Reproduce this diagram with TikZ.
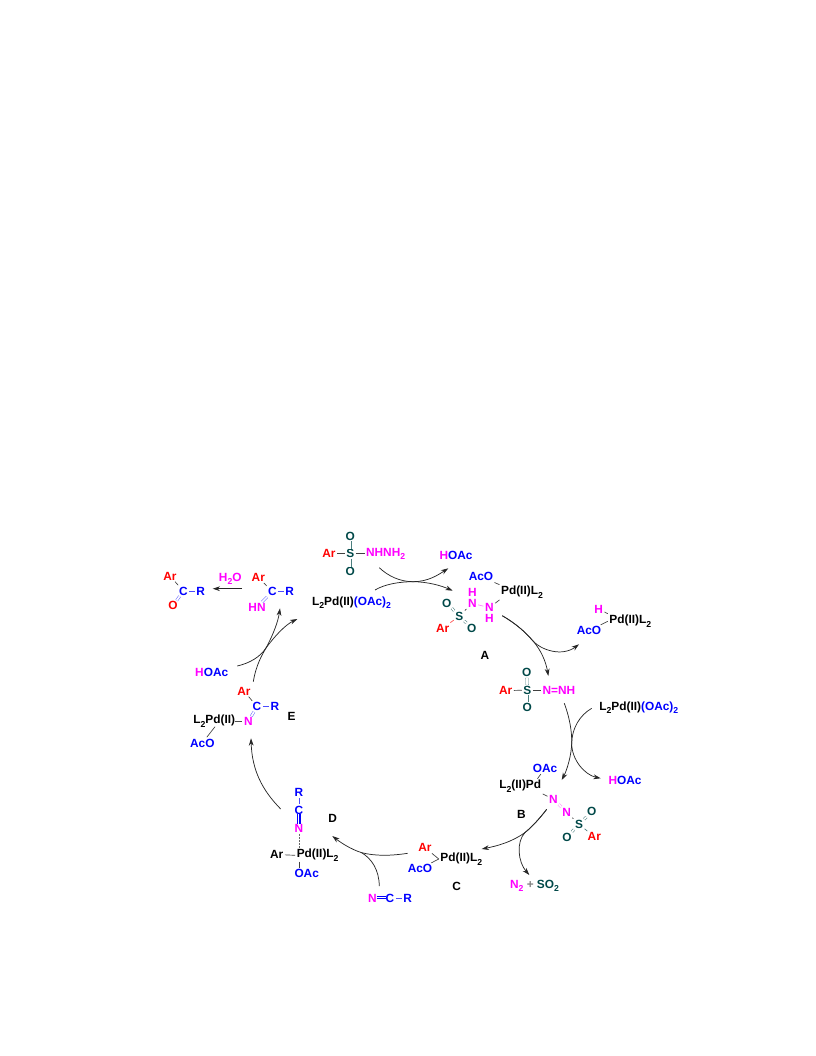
\documentclass[tikz,border=0pt]{standalone}
\usepackage{fontspec}
\setmainfont{Liberation Sans}
\usetikzlibrary{arrows.meta}
\definecolor{gn}{RGB}{0,72,72}
\definecolor{mgt}{RGB}{255,0,255}
\definecolor{blu}{RGB}{0,0,255}
\definecolor{rd}{RGB}{255,0,0}
\newcommand{\lo}[1]{\raisebox{-0.55ex}{\fontsize{6.5pt}{7pt}\selectfont #1}}
\newcommand{\bl}[1]{\textcolor{blu}{#1}}
\newcommand{\mg}[1]{\textcolor{mgt}{#1}}
\tikzset{
 atom/.style={font=\fontsize{8.9pt}{10pt}\selectfont\bfseries,inner sep=0.8pt,outer sep=0.4pt},
 ra/.style={atom,text=rd}, ba/.style={atom,text=blu}, ma/.style={atom,text=mgt},
 ga/.style={atom,text=gn}, ka/.style={atom,text=black},
 bond/.style={line width=0.5pt,draw=#1},
 bond/.default=black!75,
 dbl/.style={draw=#1,line width=0.4pt,double=white,double distance=1.3pt,shorten >=-0.5pt,shorten <=-0.5pt},
 tpl/.style={draw=#1,line width=0.5pt,double=white,double distance=2.2pt,shorten >=-1.2pt,shorten <=-1.2pt},
 tmid/.style={draw=#1,line width=0.5pt,shorten >=-1.2pt,shorten <=-1.2pt},
 rxn/.style={line width=0.55pt,draw=black!85,-{Stealth[length=5.5pt,width=3.6pt]}},
 rxnp/.style={line width=0.55pt,draw=black!85},
}
\begin{document}
\begin{tikzpicture}[x=0.75pt,y=-0.75pt]
\useasboundingbox (0,0) rectangle (816,1056);
% sulfonyl hydrazide
\node[ra] (ar1) at (329,553.7) {Ar};
\node[ga] (s1) at (350.3,553.7) {S};
\node[ga] (o1a) at (350.3,536) {O};
\node[ga] (o1b) at (350.3,571.7) {O};
\node[ma,anchor=west] (nh1) at (364.5,553.7) {NHNH\lo{2}};
\draw[bond] (ar1)--(s1); \draw[bond] (s1)--(nh1);
\draw[dbl=gn!70] (s1)--(o1a); \draw[dbl=gn!70] (s1)--(o1b);
% ketone
\node[ra] (ar2) at (170,576) {Ar};
\node[ba] (c2) at (183.3,591) {C};
\node[ba] (r2) at (200.7,591) {R};
\node[ra] (o2) at (173,605.7) {O};
\draw[bond] (ar2)--(c2); \draw[bond=blu!70] (c2)--(r2); \draw[dbl=blu!60] (c2)--(o2);
\node[ma] (h2o) at (230.3,578.7) {H\lo{2}O};
% imine
\node[ra] (ar3) at (258.3,577.3) {Ar};
\node[ba] (c3) at (272.3,591.7) {C};
\node[ba] (r3) at (289.7,591.7) {R};
\node[ma] (hn3) at (257,607) {HN};
\draw[bond] (ar3)--(c3); \draw[bond=blu!70] (c3)--(r3); \draw[dbl=blu!60] (c3)--(hn3);
\coordinate (im0) at (242,588.7); \coordinate (im1) at (212.7,588.7);
\draw[rxn] (im0)--(im1);
% catalyst top
\node[atom,anchor=west] (cat1) at (310.5,602.7) {L\lo{2}Pd(II)\bl{(OAc)\lo{2}}};
% HOAc top right
\node[atom] (hoac1) at (456,555.7) {\mg{H}\bl{OAc}};
% A
\node[ba] (aco4) at (481,576.7) {AcO};
\node[ka,anchor=west] (pd4) at (499.5,592.3) {Pd(II)L\lo{2}};
\node[ma] (h4a) at (472.3,592.7) {H};
\node[ma] (n4a) at (472.3,603.3) {N};
\node[ma] (n4b) at (489.3,607.7) {N};
\node[ma] (h4b) at (489.3,618) {H};
\node[ga] (s4) at (459.3,616) {S};
\node[ga] (o4a) at (446.7,603) {O};
\node[ga] (o4b) at (471.7,628.3) {O};
\node[ra] (ar4) at (442.7,628.3) {Ar};
\node[ka] (lA) at (485,655.7) {A};
\draw[bond] (aco4)--(pd4.north west); \draw[bond] (n4b)--(pd4.south west);
\draw[bond=mgt!50] (n4a)--(n4b); \draw[bond] (n4a)--(s4);
\draw[bond=rd!70] (ar4)--(s4);
\draw[dbl=gn!70] (s4)--(o4a); \draw[dbl=gn!70] (s4)--(o4b);
% HPd
\node[ma] (h5) at (598.7,609) {H};
\node[ka,anchor=west] (pd5) at (607.8,621.3) {Pd(II)L\lo{2}};
\node[ba] (aco5) at (589,630.7) {AcO};
\draw[bond] (h5)--(pd5.north west); \draw[bond] (aco5)--(pd5.west);
% sulfonyl diazene
\node[ra] (ar6) at (505.7,690.7) {Ar};
\node[ga] (s6) at (527.3,690) {S};
\node[ga] (o6a) at (526.7,672.7) {O};
\node[ga] (o6b) at (527.3,707.3) {O};
\node[ma,anchor=west] (nn6) at (541,690) {N=NH};
\draw[bond] (ar6)--(s6); \draw[bond] (s6)--(nn6);
\draw[dbl=gn!70] (s6)--(o6a); \draw[dbl=gn!70] (s6)--(o6b);
\node[atom,anchor=west] (cat2) at (597.8,707.7) {L\lo{2}Pd(II)\bl{(OAc)\lo{2}}};
\node[atom] (hoac2) at (625,780.7) {\mg{H}\bl{OAc}};
% B
\node[ba] (oac7) at (545,768.3) {OAc};
\node[ka,anchor=west] (pd7) at (497.8,786.3) {L\lo{2}(II)Pd};
\node[ma] (n7a) at (553.3,799.3) {N};
\node[ma] (n7b) at (566.7,812) {N};
\node[ga] (s7) at (579,824.3) {S};
\node[ga] (o7a) at (591.7,811.7) {O};
\node[ga] (o7b) at (567,837) {O};
\node[ra] (ar7) at (594.3,836.7) {Ar};
\node[ka] (lB) at (521.3,814.3) {B};
\coordinate (pd7a) at (537.5,786.3);
\draw[bond] (oac7)--(pd7a|-pd7.north); \draw[bond] (pd7.south east)--(n7a);
\draw[dbl=mgt!45] (n7a)--(n7b); \draw[bond] (n7b)--(s7); \draw[bond=gn!70] (s7)--(ar7);
\draw[dbl=gn!70] (s7)--(o7a); \draw[dbl=gn!70] (s7)--(o7b);
\node[atom] (n2so2) at (534.5,885.7) {\mg{N\lo{2}} \textcolor{black!50}{+} \textcolor{gn}{SO\lo{2}}};
% C
\node[ra] (ar8) at (425,847.7) {Ar};
\node[ka,anchor=west] (pd8) at (438.8,859) {Pd(II)L\lo{2}};
\node[ba] (aco8) at (420,868.7) {AcO};
\node[ka] (lC) at (456.7,886) {C};
\draw[bond] (ar8)--(pd8.west); \draw[bond] (aco8)--(pd8.west);
% nitrile
\node[ma] (n9) at (372.3,898.3) {N};
\node[ba] (c9) at (390,898.3) {C};
\node[ba] (r9) at (407.7,898.3) {R};
\draw[bond=blu!70] (c9)--(r9);
\draw[tpl=blu] (n9)--(c9); \draw[tmid=blu] (n9)--(c9);
% D
\node[ba] (r10) at (299,792.3) {R};
\node[ba] (c10) at (299,810) {C};
\node[ma] (n10) at (299,828) {N};
\node[ka,anchor=west] (pd10) at (295.2,855.3) {Pd(II)L\lo{2}};
\node[ka] (ar10) at (276.7,854.5) {Ar};
\node[ba] (oac10) at (306.7,873.7) {OAc};
\node[ka] (lD) at (332.7,818.3) {D};
\coordinate (pd10t) at (299,849.5); \coordinate (pd10b) at (299,861.5);
\draw[bond=blu!70] (r10)--(c10);
\draw[tpl=blu] (c10)--(n10); \draw[tmid=blu] (c10)--(n10);
\draw[draw=black!60,dash pattern=on 1.4pt off 1pt,line width=0.7pt] (n10)--(pd10t);
\draw[bond] (ar10)--(pd10.west); \draw[bond] (pd10b)--(pd10b|-oac10.north);
% E
\node[ra] (ar11) at (244,691) {Ar};
\node[ba] (c11) at (257,706.7) {C};
\node[ba] (r11) at (275,706.7) {R};
\node[ma] (n11) at (248.3,721.3) {N};
\node[ka,anchor=west] (pd11) at (191.8,721.3) {L\lo{2}Pd(II)};
\node[ba] (aco11) at (202.3,743) {AcO};
\node[ka] (lE) at (291.7,716) {E};
\node[atom] (hoac3) at (211.7,672.7) {\mg{H}\bl{OAc}};
\coordinate (pd11b) at (215,726.7);
\draw[bond] (ar11)--(c11); \draw[bond=blu!70] (c11)--(r11); \draw[dbl=blu!60] (c11)--(n11);
\draw[draw=black!70,line width=0.8pt,shorten <=-1.5pt] (pd11)--(n11); \draw[bond] (pd11b)--(aco11);
% reaction arrows
\coordinate (a1) at (375,590); \coordinate (a2) at (448.3,568.3); \coordinate (ab) at (413,581.7);
\draw[rxn] (a1) .. controls (385,584) and (400,581.7) .. (ab) .. controls (428,581.7) and (438,575) .. (a2);
\coordinate (b1) at (379.3,567.7); \coordinate (b2) at (452.7,590.7);
\draw[rxn] (b1) .. controls (388,576) and (400,581.7) .. (ab) .. controls (428,581.7) and (442,586) .. (b2);
\coordinate (c1) at (502.3,615.7); \coordinate (c2) at (548.3,676); \coordinate (d2) at (579,644.3); \coordinate (cd) at (533,641);
\draw[rxn] (c1) .. controls (518,625) and (526,633) .. (cd) .. controls (541,650) and (546,662) .. (c2);
\draw[rxn] (c1) .. controls (518,625) and (526,633) .. (cd) .. controls (541,650) and (562,657) .. (d2);
\coordinate (e1) at (564.3,703.3); \coordinate (e2) at (561.7,780); \coordinate (ef) at (571.7,743);
\draw[rxn] (e1) .. controls (569,716) and (572,730) .. (ef) .. controls (571.5,755) and (567,770) .. (e2);
\coordinate (f1) at (591.7,708.3); \coordinate (f2) at (600.7,778.3);
\draw[rxn] (f1) .. controls (580,715) and (572,728) .. (ef) .. controls (571.5,760) and (585,775) .. (f2);
\coordinate (g1) at (546.7,809.3); \coordinate (g2) at (481.7,849); \coordinate (gh) at (525,832.5); \coordinate (h2) at (529.3,875);
\draw[rxn] (g1) .. controls (540,818) and (532,827) .. (gh) .. controls (512,842) and (497,846) .. (g2);
\draw[rxn] (g1) .. controls (540,818) and (532,827) .. (gh) .. controls (516,842) and (518,862) .. (h2);
\coordinate (i1) at (407.7,853.3); \coordinate (i2) at (332.3,836); \coordinate (ij) at (361.7,852.7);
\draw[rxn] (i1) .. controls (390,856) and (375,856) .. (ij) .. controls (350,849) and (340,842) .. (i2);
\coordinate (j1) at (379.3,886);
\draw[rxnp] (j1) .. controls (379,870) and (372,859) .. (ij);
\coordinate (k1) at (280.7,809); \coordinate (k2) at (251,738.3);
\draw[rxn] (k1) .. controls (262,790) and (252,770) .. (k2);
\coordinate (l1) at (253.3,681.7); \coordinate (l2) at (280,608.3); \coordinate (lm) at (266,648);
\draw[rxn] (l1) .. controls (256,665) and (262,655) .. (lm) .. controls (273,635) and (278,622) .. (l2);
\coordinate (m1) at (237.3,666); \coordinate (m2) at (297.3,619);
\draw[rxn] (m1) .. controls (250,663) and (260,657) .. (lm) .. controls (274,637) and (285,625) .. (m2);
\end{tikzpicture}
\end{document}
